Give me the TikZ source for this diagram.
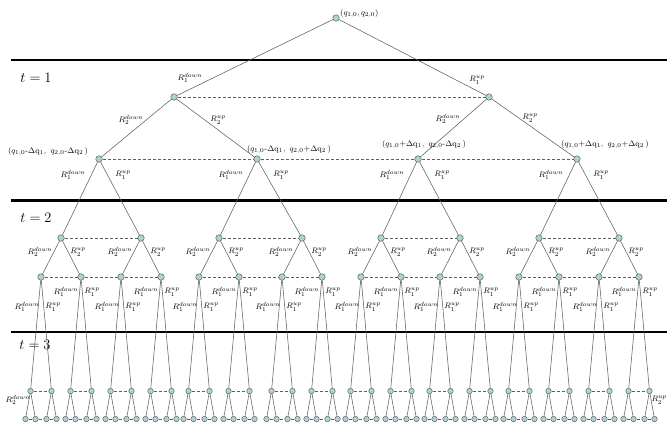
\documentclass[tikz,border=0pt]{standalone}
\usepackage{amsmath}
\usepackage{tikz}
\usetikzlibrary{positioning}

\definecolor{nodecyan}{RGB}{172,212,214}
\definecolor{edgegray}{RGB}{95,95,95}

\tikzset{
  vert/.style={circle,draw=edgegray,fill=nodecyan,line width=0.5pt,inner sep=0pt,minimum size=6.5pt},
  leaf/.style={vert,minimum size=5.5pt},
  edge/.style={draw=edgegray,line width=0.55pt},
  tie/.style={draw=edgegray,line width=0.6pt,dash pattern=on 3pt off 2pt},
  stage/.style={line width=2.2pt},
  lbl/.style={font=\fontsize{8}{9}\selectfont,inner sep=0pt},
  qlbl/.style={font=\fontsize{8.5}{10}\selectfont,inner sep=0pt},
  tlbl/.style={font=\fontsize{15}{18}\selectfont,inner sep=0pt}
}

\begin{document}
\begin{tikzpicture}[x=1pt,y=-1pt]
  \useasboundingbox (0,0) rectangle (667,424);
  \draw[stage] (11,60) -- (667,60); % boundary of stage t=1
  \draw[stage] (11,200.5) -- (667,200.5); % boundary of stage t=2
  \draw[stage] (11,332) -- (667,332); % boundary of stage t=3
  \node[tlbl] (t1) at (36,78) {$t=1$};
  \node[tlbl] (t2) at (36,218) {$t=2$};
  \node[tlbl] (t3) at (35,345) {$t=3$};

  % root and first two branchings
  \node[vert] (r) at (336,18) {};
  \node[qlbl,anchor=west] (q0) at (340,14) {$(q_{1,0},q_{2,0})$};
  \node[vert] (a1) at (174,97) {};
  \node[vert] (a2) at (489,97) {};
  \foreach \x [count=\i] in {99,257,418,577} \node[vert] (b\i) at (\x,159) {};
  \foreach \x [count=\i] in {61,141,219,302,381,460,539,619} \node[vert] (c\i) at (\x,238) {};
  \foreach \i in {1,...,8} {
    \pgfmathtruncatemacro{\lo}{2*\i-1}
    \pgfmathtruncatemacro{\hi}{2*\i}
    \path (c\i) ++(-20,39) node[vert] (d\lo) {} (c\i) ++(20,39) node[vert] (d\hi) {};
  }
  \foreach \i in {1,...,16} {
    \pgfmathtruncatemacro{\lo}{2*\i-1}
    \pgfmathtruncatemacro{\hi}{2*\i}
    \path (d\i) ++(-10.5,114) node[leaf] (e\lo) {} (d\i) ++(10.5,114) node[leaf] (e\hi) {};
  }
  \foreach \i in {1,...,32} {
    \pgfmathtruncatemacro{\lo}{2*\i-1}
    \pgfmathtruncatemacro{\hi}{2*\i}
    \path (e\i) ++(-5,28) node[leaf] (f\lo) {} (e\i) ++(5,28) node[leaf] (f\hi) {};
  }

  % branches
  \draw[edge] (r) -- (a1) (r) -- (a2);
  \draw[edge] (a1) -- (b1) (a1) -- (b2) (a2) -- (b3) (a2) -- (b4);
  \foreach \i in {1,...,4} {
    \pgfmathtruncatemacro{\lo}{2*\i-1}
    \pgfmathtruncatemacro{\hi}{2*\i}
    \draw[edge] (b\i) -- (c\lo) (b\i) -- (c\hi);
    \draw[tie] (c\lo) -- (c\hi);
  }
  \foreach \i in {1,...,8} {
    \pgfmathtruncatemacro{\lo}{2*\i-1}
    \pgfmathtruncatemacro{\hi}{2*\i}
    \draw[edge] (c\i) -- (d\lo) (c\i) -- (d\hi);
  }
  \foreach \i in {1,...,16} {
    \pgfmathtruncatemacro{\lo}{2*\i-1}
    \pgfmathtruncatemacro{\hi}{2*\i}
    \draw[edge] (d\i) -- (e\lo) (d\i) -- (e\hi);
    \draw[tie] (e\lo) -- (e\hi);
  }
  \foreach \i in {1,...,32} {
    \pgfmathtruncatemacro{\lo}{2*\i-1}
    \pgfmathtruncatemacro{\hi}{2*\i}
    \draw[edge] (e\i) -- (f\lo) (e\i) -- (f\hi);
  }

  % dashed ties between equal-time states
  \draw[tie] (a1) -- (a2);
  \draw[tie] (b1) -- (b2) -- (b3) -- (b4);
  \foreach \i in {0,...,3} {
    \pgfmathtruncatemacro{\p}{4*\i+1}
    \pgfmathtruncatemacro{\q}{4*\i+2}
    \pgfmathtruncatemacro{\s}{4*\i+3}
    \pgfmathtruncatemacro{\u}{4*\i+4}
    \draw[tie] (d\p) -- (d\q) -- (d\s) -- (d\u);
  }
  \foreach \i in {0,...,15} {
    \pgfmathtruncatemacro{\p}{4*\i+1}
    \pgfmathtruncatemacro{\q}{4*\i+2}
    \pgfmathtruncatemacro{\s}{4*\i+3}
    \pgfmathtruncatemacro{\u}{4*\i+4}
    \draw[tie] (f\p) -- (f\q) -- (f\s) -- (f\u);
  }

  % state labels
  \node[qlbl] (qb1) at (48,152) {$(q_{1,0}\text{-}\Delta\mathrm{q}_1,\ q_{2,0}\text{-}\Delta\mathrm{q}_2\,)$};
  \node[qlbl] (qb2) at (289,150) {$(q_{1,0}\text{-}\Delta\mathrm{q}_1,\ q_{2,0}\text{+}\Delta\mathrm{q}_2\,)$};
  \node[qlbl] (qb3) at (424,145) {$(q_{1,0}\text{+}\Delta\mathrm{q}_1,\ q_{2,0}\text{-}\Delta\mathrm{q}_2\,)$};
  \node[qlbl] (qb4) at (605,145) {$(q_{1,0}\text{+}\Delta\mathrm{q}_1,\ q_{2,0}\text{+}\Delta\mathrm{q}_2\,)$};

  % branch labels
  \node[lbl] (ra1) at (190,78) {$R_1^{down}$};
  \node[lbl] (ra2) at (477,80) {$R_1^{up}$};
  \node[lbl] (rb1) at (131,120) {$R_2^{down}$};
  \node[lbl] (rb2) at (218,120) {$R_2^{up}$};
  \node[lbl] (rb3) at (448,119) {$R_2^{down}$};
  \node[lbl] (rb4) at (530,118) {$R_2^{up}$};
  \foreach \i in {1,...,4}
    \path (b\i) ++(-26,16) node[lbl] (rcd\i) {$R_1^{down}$} (b\i) ++(24,16) node[lbl] (rcu\i) {$R_1^{up}$};
  \foreach \i in {1,...,8}
    \path (c\i) ++(-21,14) node[lbl] (rdd\i) {$R_2^{down}$} (c\i) ++(17,14) node[lbl] (rdu\i) {$R_2^{up}$};
  \foreach \i in {1,3,...,15} {
    \pgfmathtruncatemacro{\hi}{\i+1}
    \path (d\i) ++(-14,30) node[lbl] (red\i) {$R_1^{down}$} (d\i) ++(12,30) node[lbl] (reu\i) {$R_1^{up}$};
    \path (d\hi) ++(-15,15) node[lbl] (red\hi) {$R_1^{down}$} (d\hi) ++(11,15) node[lbl] (reu\hi) {$R_1^{up}$};
  }
  \node[lbl] (rfd) at (18,400) {$R_2^{down}$};
  \node[lbl,anchor=east] (rfu) at (667,400) {$R_2^{up}$};
\end{tikzpicture}
\end{document}
